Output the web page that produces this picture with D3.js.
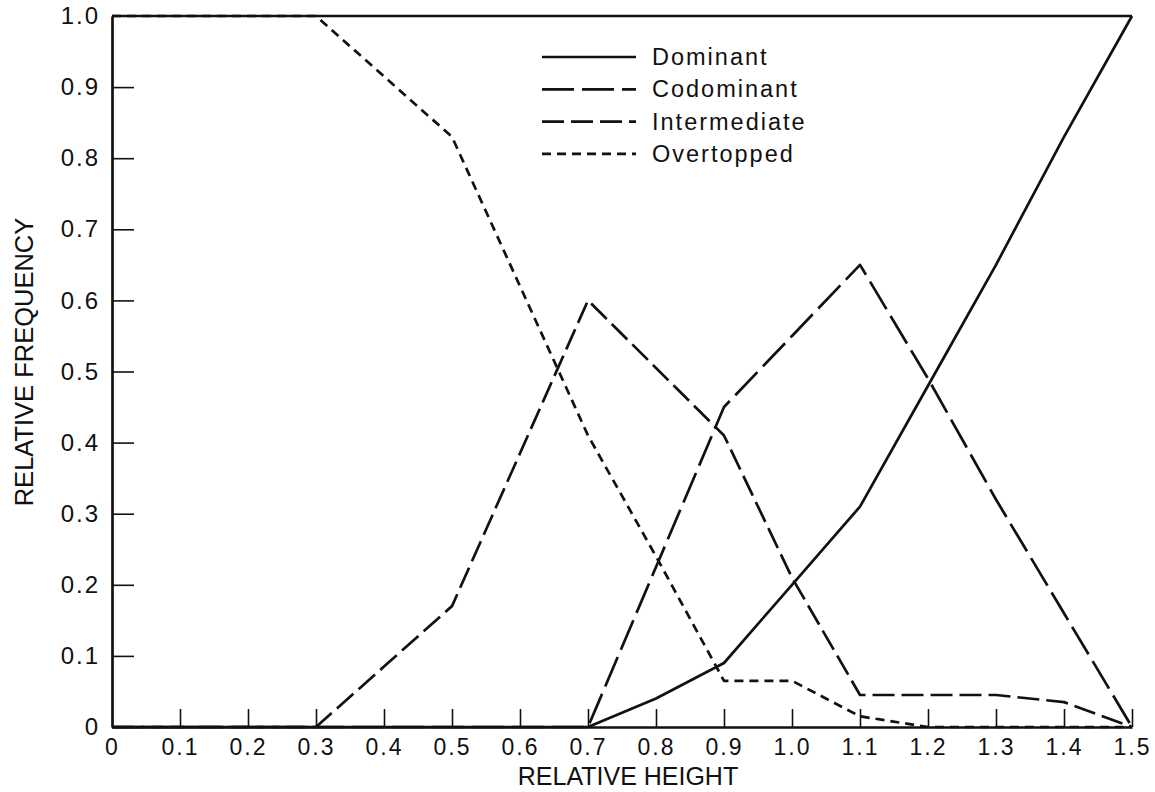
<!DOCTYPE html>
<html>
<head>
<meta charset="utf-8">
<script src="https://cdn.jsdelivr.net/npm/d3@7"></script>
<style>
  html, body { margin: 0; padding: 0; background: #fff; }
  svg { display: block; }
  text { font-family: "Liberation Sans", Arial, Helvetica, sans-serif; fill: #111; }
</style>
</head>
<body>
<svg id="chart" width="1155" height="792"></svg>
<script>
// ---- data ----
const heights = [0, 0.1, 0.2, 0.3, 0.4, 0.5, 0.6, 0.7, 0.8, 0.9, 1.0, 1.1, 1.2, 1.3, 1.4, 1.5];
const dominant     = [0, 0, 0, 0, 0, 0, 0, 0, 0.04, 0.09, 0.20, 0.31, 0.48, 0.65, 0.83, 1.0];
const codominant   = [0, 0, 0, 0, 0, 0, 0, 0, 0.225, 0.45, 0.55, 0.65, 0.49, 0.32, 0.16, 0];
const intermediate = [0, 0, 0, 0, 0.085, 0.17, 0.385, 0.60, 0.505, 0.41, 0.21, 0.045, 0.045, 0.045, 0.035, 0];
const overtopped   = [1, 1, 1, 1, 0.915, 0.83, 0.62, 0.41, 0.24, 0.065, 0.065, 0.015, 0, 0, 0, 0];
const seriesNames  = ["Dominant", "Codominant", "Intermediate", "Overtopped"];
const xTickValues  = [0, 0.1, 0.2, 0.3, 0.4, 0.5, 0.6, 0.7, 0.8, 0.9, 1.0, 1.1, 1.2, 1.3, 1.4, 1.5];
const xTickLabels  = ["0", "0.1", "0.2", "0.3", "0.4", "0.5", "0.6", "0.7", "0.8", "0.9", "1.0", "1.1", "1.2", "1.3", "1.4", "1.5"];
const yTickValues  = [0, 0.1, 0.2, 0.3, 0.4, 0.5, 0.6, 0.7, 0.8, 0.9, 1.0];
const yTickLabels  = ["0", "0.1", "0.2", "0.3", "0.4", "0.5", "0.6", "0.7", "0.8", "0.9", "1.0"];
const xTitle = "RELATIVE HEIGHT";
const yTitle = "RELATIVE FREQUENCY";

// ---- styles ----
const dashes = {
  "Dominant": null,
  "Codominant": "32,8",
  "Intermediate": "22,7",
  "Overtopped": "9,6"
};
const seriesData = {
  "Dominant": dominant,
  "Codominant": codominant,
  "Intermediate": intermediate,
  "Overtopped": overtopped
};

const svg = d3.select("#chart");
const mLeft = 112, mRight = 1132, mTop = 16, mBottom = 727;
const x = d3.scaleLinear().domain([0, 1.5]).range([mLeft, mRight]);
const y = d3.scaleLinear().domain([0, 1]).range([mBottom, mTop]);
const ink = "#111";

// lines
const line = d3.line().x((d, i) => x(heights[i])).y(d => y(d));
seriesNames.forEach(name => {
  svg.append("path")
    .datum(seriesData[name])
    .attr("d", line)
    .attr("fill", "none")
    .attr("stroke", ink)
    .attr("stroke-width", 2.7)
    .attr("stroke-linejoin", "round")
    .attr("stroke-dasharray", dashes[name]);
});

// x axis (ticks pointing inward)
const xAxis = d3.axisBottom(x)
  .tickValues(xTickValues)
  .tickFormat((d, i) => xTickLabels[i])
  .tickSizeInner(-18)
  .tickSizeOuter(0)
  .tickPadding(30);
const gx = svg.append("g").attr("transform", `translate(0,${mBottom})`).call(xAxis);
gx.select(".domain").attr("stroke", ink).attr("stroke-width", 2.7);
gx.selectAll(".tick line").attr("stroke", ink).attr("stroke-width", 1.6)
  .filter(d => d === 0).remove();
gx.selectAll(".tick text").attr("font-size", 23).attr("fill", ink)
  .attr("letter-spacing", 2)
  .attr("y", 12).attr("dy", "0.71em");

// y axis (ticks pointing inward)
const yAxis = d3.axisLeft(y)
  .tickValues(yTickValues)
  .tickFormat((d, i) => yTickLabels[i])
  .tickSizeInner(-22)
  .tickSizeOuter(0)
  .tickPadding(36);
const gy = svg.append("g").attr("transform", `translate(${mLeft},0)`).call(yAxis);
gy.select(".domain").attr("stroke", ink).attr("stroke-width", 2.7);
gy.selectAll(".tick line").attr("stroke", ink).attr("stroke-width", 1.6)
  .filter(d => d === 0 || d === 1).remove();
gy.selectAll(".tick text").attr("font-size", 24).attr("fill", ink)
  .attr("letter-spacing", 2)
  .attr("x", -12);

// top frame line
svg.append("line")
  .attr("x1", mLeft).attr("x2", mRight)
  .attr("y1", mTop).attr("y2", mTop)
  .attr("stroke", ink).attr("stroke-width", 2.7);

// axis titles
svg.append("text")
  .attr("x", 628).attr("y", 785)
  .attr("text-anchor", "middle")
  .attr("font-size", 25)
  .text(xTitle);
svg.append("text")
  .attr("transform", "translate(33,362) rotate(-90)")
  .attr("text-anchor", "middle")
  .attr("font-size", 25.5)
  .text(yTitle);

// legend
const legend = svg.append("g");
seriesNames.forEach((name, i) => {
  const cy = 57 + i * 32.3;
  legend.append("line")
    .attr("x1", 542).attr("x2", 636)
    .attr("y1", cy).attr("y2", cy)
    .attr("stroke", ink).attr("stroke-width", 2.7)
    .attr("stroke-dasharray", dashes[name]);
  legend.append("text")
    .attr("x", 652).attr("y", cy + 8)
    .attr("font-size", 23.5)
    .attr("letter-spacing", 2)
    .text(name);
});
</script>
</body>
</html>
